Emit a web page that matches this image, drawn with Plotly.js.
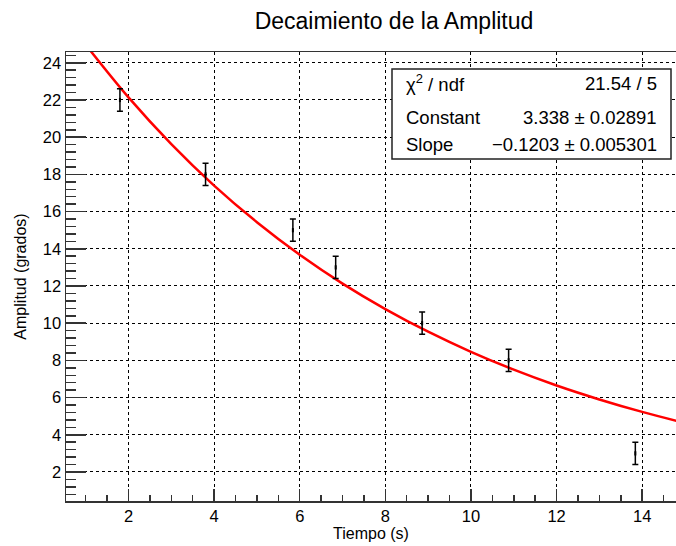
<!DOCTYPE html>
<html>
<head>
<meta charset="utf-8">
<script src="https://cdn.plot.ly/plotly-3.0.1.min.js"></script>
<style>
  html, body { margin: 0; padding: 0; background: #fff; }
  #chart { width: 676px; height: 546px; }
</style>
</head>
<body>
<div id="chart"></div>
<script>
// Measured data (Tiempo in s, Amplitud in grados) with errors
const tiempo = [1.8, 3.8, 5.84, 6.84, 8.86, 10.88, 13.84];
const amplitud = [22, 18, 15, 13, 10, 8, 3];
const errAmplitud = [0.6, 0.6, 0.6, 0.6, 0.6, 0.6, 0.6];

// Fitted curve
const fitX = [1.0, 2, 3, 4, 5, 6, 7, 8, 9, 10, 11, 12, 13, 14, 14.8];
const fitY = [24.97, 22.14, 19.63, 17.40, 15.43, 13.68, 12.13, 10.76, 9.54, 8.46, 7.50, 6.65, 5.90, 5.23, 4.75];

// Stats box content
const statsLabels = ["\u03c7<sup>2</sup> / ndf", "Constant", "Slope"];
const statsValues = ["21.54 / 5", "3.338 \u00b1 0.02891", "\u22120.1203 \u00b1 0.005301"];

const FONT = "Liberation Sans, Arial, Helvetica, sans-serif";

const traces = [
  {
    x: fitX, y: fitY, type: 'scatter', mode: 'lines',
    line: { color: '#ff0000', width: 2.5, shape: 'spline' },
    hoverinfo: 'skip', showlegend: false
  },
  {
    x: tiempo, y: amplitud, type: 'scatter', mode: 'markers',
    marker: { color: '#000', size: 3, symbol: 'line-ns', line: { width: 2, color: '#000' } },
    error_y: { type: 'data', array: errAmplitud, visible: true, color: '#000', thickness: 1.5, width: 3 },
    showlegend: false
  }
];

const statsTop = 69, statsBottom = 159, statsLeft = 392, statsRight = 671;
const rowY = [83, 117, 144];

const annotations = [];
statsLabels.forEach((t, i) => {
  annotations.push({
    text: t, xref: 'paper', yref: 'paper',
    x: (404 - 66) / 610, y: (500.7 - rowY[i]) / 448.7,
    xanchor: 'left', yanchor: 'middle', showarrow: false,
    font: { family: FONT, size: 18.5, color: '#000' }
  });
  annotations.push({
    text: statsValues[i], xref: 'paper', yref: 'paper',
    x: (659 - 66) / 610, y: (500.7 - rowY[i]) / 448.7,
    xanchor: 'right', yanchor: 'middle', showarrow: false,
    font: { family: FONT, size: 18.5, color: '#000' }
  });
});

const layout = {
  width: 676, height: 546,
  margin: { l: 66, r: 0, t: 52, b: 45.3 },
  paper_bgcolor: '#fff', plot_bgcolor: '#fff',
  font: { family: FONT, size: 16, color: '#000' },
  title: {
    text: 'Decaimiento de la Amplitud',
    font: { family: FONT, size: 23, color: '#000' },
    xref: 'container', x: 394 / 676, xanchor: 'center',
    yref: 'container', y: 1 - 21 / 546, yanchor: 'middle'
  },
  xaxis: {
    range: [0.54, 14.79],
    title: { text: 'Tiempo (s)', font: { family: FONT, size: 16 }, standoff: 3 },
    tickmode: 'linear', tick0: 0, dtick: 2,
    ticks: 'inside', ticklen: 12, tickwidth: 1.5, tickcolor: '#333',
    minor: { dtick: 0.5, ticks: 'inside', ticklen: 6, tickwidth: 1.5, tickcolor: '#333', showgrid: false },
    showgrid: true, gridcolor: '#000', griddash: 'dot', gridwidth: 1,
    showline: true, linecolor: '#333', linewidth: 1.5, mirror: true,
    zeroline: false, tickfont: { family: FONT, size: 16.5 },
    automargin: false, fixedrange: true
  },
  yaxis: {
    range: [0.44, 24.58],
    title: { text: 'Amplitud (grados)', font: { family: FONT, size: 16 }, standoff: 12 },
    tickmode: 'linear', tick0: 0, dtick: 2,
    ticks: 'inside', ticklen: 20, tickwidth: 1.5, tickcolor: '#333',
    minor: { dtick: 0.4, ticks: 'inside', ticklen: 10, tickwidth: 1.5, tickcolor: '#333', showgrid: false },
    showgrid: true, gridcolor: '#000', griddash: 'dot', gridwidth: 1,
    showline: true, linecolor: '#333', linewidth: 1.5, mirror: false,
    zeroline: false, tickfont: { family: FONT, size: 16.5 },
    automargin: false, fixedrange: true
  },
  shapes: [
    {
      type: 'rect', xref: 'paper', yref: 'paper',
      x0: (statsLeft - 66) / 610, x1: (statsRight - 66) / 610,
      y0: (500.7 - statsBottom) / 448.7, y1: (500.7 - statsTop) / 448.7,
      line: { color: '#222', width: 1.5 }, fillcolor: '#fff', layer: 'above'
    }
  ],
  annotations: annotations,
  showlegend: false
};

Plotly.newPlot('chart', traces, layout, { staticPlot: true, displayModeBar: false });
</script>
</body>
</html>
